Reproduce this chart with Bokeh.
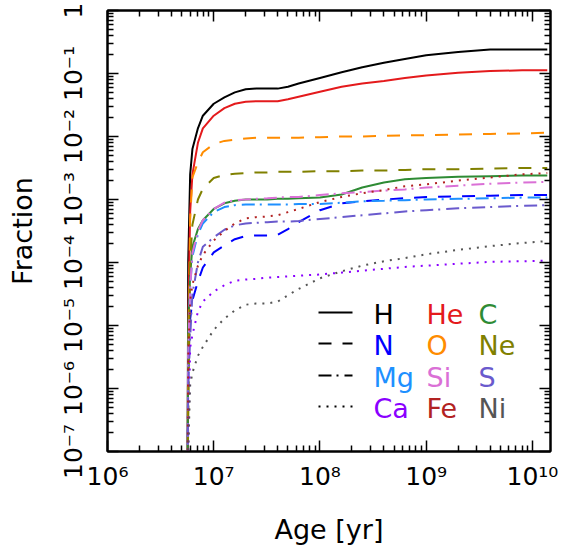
import numpy as np
from bokeh.plotting import figure
from bokeh.models import (Range1d, LogAxis, FixedTicker, CustomJSTickFormatter,
                          Label, Arrow)
from bokeh.embed import file_html
from bokeh.resources import INLINE

# ---------------- data ----------------
ages = [5.66e6, 5.75e6, 6.0e6, 6.3e6, 7.1e6, 7.9e6, 1.0e7, 1.26e7, 1.58e7, 2.0e7,
        2.5e7, 3.2e7, 4.0e7, 5.0e7, 6.3e7, 1.0e8, 1.6e8, 2.5e8, 4.0e8, 6.3e8,
        1.0e9, 2.0e9, 4.0e9, 8.0e9, 1.38e10]

# log10 of the fraction for each element
log_H  = [-8, -4.0, -2.6, -2.2, -1.87, -1.67, -1.48, -1.38, -1.30, -1.25, -1.24, -1.24, -1.24,
          -1.21, -1.16, -1.07, -0.98, -0.90, -0.83, -0.77, -0.71, -0.66, -0.62, -0.62, -0.62]
log_He = [-8, -5.0, -3.2, -2.6, -2.1, -1.87, -1.67, -1.55, -1.48, -1.45, -1.44, -1.44, -1.44,
          -1.41, -1.37, -1.29, -1.21, -1.16, -1.12, -1.07, -1.03, -0.99, -0.96, -0.95, -0.95]
log_C  = [-8, -5.0, -4.2, -3.75, -3.47, -3.33, -3.15, -3.06, -3.02, -3.0, -3.0, -3.0, -2.99,
          -2.99, -2.98, -2.97, -2.92, -2.81, -2.73, -2.68, -2.66, -2.64, -2.63, -2.62, -2.62]
log_N  = [-8, -5.6, -4.9, -4.6, -4.3, -4.08, -3.84, -3.73, -3.63, -3.58, -3.57, -3.57, -3.56,
          -3.47, -3.36, -3.17, -3.06, -3.03, -3.0, -2.98, -2.96, -2.95, -2.94, -2.93, -2.93]
log_O  = [-8, -6.0, -3.3, -2.65, -2.41, -2.25, -2.12, -2.07, -2.05, -2.03, -2.02, -2.02, -2.02,
          -2.02, -2.02, -2.01, -2.0, -2.0, -1.99, -1.98, -1.98, -1.97, -1.96, -1.95, -1.94]
log_Ne = [-8, -6.5, -4.0, -3.4, -3.0, -2.83, -2.66, -2.61, -2.59, -2.58, -2.57, -2.57, -2.56,
          -2.56, -2.56, -2.55, -2.55, -2.54, -2.54, -2.53, -2.52, -2.52, -2.51, -2.50, -2.50]
log_Mg = [-8, -5.5, -4.4, -3.9, -3.55, -3.38, -3.2, -3.12, -3.09, -3.08, -3.08, -3.08, -3.08,
          -3.08, -3.07, -3.07, -3.05, -3.03, -3.02, -3.01, -3.0, -2.99, -2.98, -2.97, -2.97]
log_Si = [-8, -5.5, -4.4, -3.85, -3.5, -3.33, -3.15, -3.05, -3.01, -3.0, -2.99, -2.98, -2.97,
          -2.96, -2.96, -2.93, -2.9, -2.88, -2.86, -2.84, -2.81, -2.78, -2.75, -2.73, -2.72]
log_S  = [-8, -6.0, -5.2, -4.5, -4.0, -3.75, -3.6, -3.48, -3.41, -3.38, -3.37, -3.36, -3.35,
          -3.35, -3.34, -3.31, -3.28, -3.25, -3.22, -3.19, -3.17, -3.14, -3.12, -3.10, -3.09]
log_Ca = [-8, -7.0, -5.35, -5.15, -4.78, -4.62, -4.46, -4.36, -4.29, -4.27, -4.26, -4.24, -4.23,
          -4.22, -4.21, -4.19, -4.16, -4.13, -4.10, -4.07, -4.05, -4.02, -3.99, -3.98, -3.97]
log_Fe = [-8, -5.5, -4.6, -4.35, -4.05, -3.88, -3.65, -3.5, -3.38, -3.30, -3.28, -3.27, -3.25,
          -3.2, -3.15, -3.04, -2.96, -2.9, -2.85, -2.79, -2.76, -2.70, -2.65, -2.60, -2.58]
log_Ni = [-8, -7.0, -5.95, -5.75, -5.48, -5.34, -5.07, -4.89, -4.76, -4.67, -4.65, -4.65, -4.62,
          -4.52, -4.42, -4.25, -4.14, -4.05, -3.98, -3.93, -3.87, -3.80, -3.74, -3.69, -3.66]

elements = ["H", "He", "C", "N", "O", "Ne", "Mg", "Si", "S", "Ca", "Fe", "Ni"]
series = [log_H, log_He, log_C, log_N, log_O, log_Ne, log_Mg, log_Si, log_S, log_Ca, log_Fe, log_Ni]
colors = ["#000000", "#e41a1c", "#2e8b34", "#0000ff", "#ff8c00", "#808000",
          "#1e90ff", "#da70d6", "#6a5acd", "#8a00ff", "#b22222", "#555555"]

x_decades = [1e6, 1e7, 1e8, 1e9, 1e10]
y_decades = [1e-7, 1e-6, 1e-5, 1e-4, 1e-3, 1e-2, 1e-1, 1.0]

# ---------------- styles ----------------
FONT = "DejaVu Sans"
dashes = ["solid", "13 11", "13 5 2 6", "2 6"]   # one per row of 3 elements

p = figure(width=587, height=548, x_axis_type="log", y_axis_type="log",
           x_range=Range1d(1e6, 1.48e10), y_range=Range1d(1e-7, 1.0),
           output_backend="svg", toolbar_location=None,
           min_border_left=107, min_border_right=37, min_border_top=10, min_border_bottom=97)
p.xgrid.visible = False
p.ygrid.visible = False
p.outline_line_color = "black"
p.outline_line_width = 2
p.background_fill_color = "white"
p.border_fill_color = "white"

for i, (name, logs, col) in enumerate(zip(elements, series, colors)):
    p.line(ages, 10.0 ** np.array(logs), line_color=col, line_width=2,
           line_dash=dashes[i // 3])

x_ticker = FixedTicker(ticks=x_decades,
                       minor_ticks=[k * 10.0 ** e for e in range(6, 10) for k in range(2, 10)])
y_ticker = FixedTicker(ticks=y_decades,
                       minor_ticks=[k * 10.0 ** e for e in range(-7, 0) for k in range(2, 10)])

fmt_code = """
const e = Math.round(Math.log10(tick));
if (e === 0) { return "1"; }
const sup = {"0":"\u2070","1":"\u00b9","2":"\u00b2","3":"\u00b3","4":"\u2074","5":"\u2075",
             "6":"\u2076","7":"\u2077","8":"\u2078","9":"\u2079","-":"\u207b"};
return "10" + String(e).split("").map(c => sup[c]).join("");
"""
blank = CustomJSTickFormatter(code="return '';")

def style_axis(ax):
    ax.axis_line_width = 2
    ax.axis_line_color = "black"
    ax.major_tick_in = 11
    ax.major_tick_out = 0
    ax.minor_tick_in = 6
    ax.minor_tick_out = 0
    ax.major_tick_line_width = 1.5
    ax.minor_tick_line_width = 1.5
    ax.major_tick_line_color = "black"
    ax.minor_tick_line_color = "black"
    ax.major_label_text_font = FONT
    ax.major_label_text_color = "black"
    ax.axis_label_text_font = FONT
    ax.axis_label_text_font_style = "normal"
    ax.axis_label_text_color = "black"

xa = p.xaxis[0]
xa.ticker = x_ticker
xa.formatter = CustomJSTickFormatter(code=fmt_code)
style_axis(xa)
xa.major_label_text_font_size = "25px"
xa.major_label_standoff = 10
xa.axis_label = "Age [yr]"
xa.axis_label_text_font_size = "27px"
xa.axis_label_standoff = 20

ya = p.yaxis[0]
ya.ticker = y_ticker
ya.formatter = CustomJSTickFormatter(code=fmt_code)
style_axis(ya)
ya.major_label_text_font_size = "25px"
ya.major_label_orientation = "vertical"
ya.major_label_standoff = 20
ya.axis_label = "Fraction"
ya.axis_label_text_font_size = "27px"
ya.axis_label_standoff = 18

top = LogAxis(ticker=x_ticker, formatter=blank)
style_axis(top)
top.major_label_text_font_size = "1px"
top.major_label_standoff = 0
p.add_layout(top, "above")

right = LogAxis(ticker=y_ticker, formatter=blank)
style_axis(right)
right.major_label_text_font_size = "1px"
right.major_label_standoff = 0
p.add_layout(right, "right")

# ---------------- legend: line styles + coloured element names ----------------
line_y = [139, 108, 76, 45]
for d, yy in zip(dashes, line_y):
    p.add_layout(Arrow(start=None, end=None, x_start=211, y_start=yy, x_end=245, y_end=yy,
                       start_units="screen", end_units="screen",
                       line_color="black", line_width=2, line_dash=d))

row_y = [137, 106, 74, 43]
col_x = [266, 319, 371]
for i, (name, col) in enumerate(zip(elements, colors)):
    p.add_layout(Label(x=col_x[i % 3], y=row_y[i // 3], x_units="screen", y_units="screen",
                       text=name, text_color=col, text_font=FONT, text_font_size="27px",
                       text_baseline="middle", text_align="left"))

open("out.html", "w").write(file_html(p, INLINE))
